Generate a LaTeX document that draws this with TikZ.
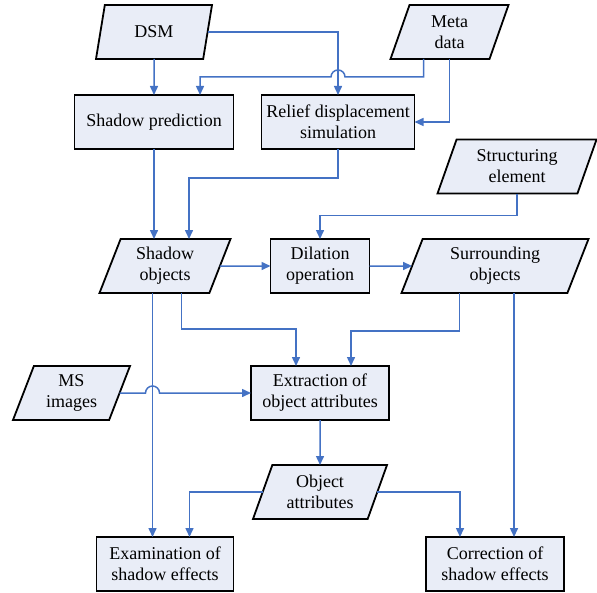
\documentclass[tikz,border=0pt]{standalone}
\usepackage{fontspec}
\setmainfont{Liberation Serif}
\newfontfamily\flowfont{Liberation Serif}
\usetikzlibrary{positioning,arrows.meta,calc,shapes.geometric}
\definecolor{flowline}{RGB}{68,114,196}
\definecolor{flowfill}{RGB}{233,237,247}

\begin{document}
\begin{tikzpicture}[font=\flowfont\fontsize{9}{10.5}\selectfont,>={Triangle[length=4.5pt,width=4pt]},node distance=18pt,
  proc/.style={draw,line width=0.9pt,outer sep=0pt,fill=flowfill,align=center,inner sep=1.5pt,minimum height=27pt},
  dat/.style={draw,line width=0.9pt,outer sep=0pt,fill=flowfill,align=center,inner sep=1.5pt,minimum height=27pt,
    trapezium,trapezium left angle=64,trapezium right angle=116,trapezium stretches body},
  link/.style={->,draw=flowline,line width=0.75pt}]
  \useasboundingbox (-77pt,16pt) rectangle (221.5pt,-280pt);
  \node[dat,minimum width=58pt] (dsm) {DSM};
  \node[proc,minimum width=79.5pt,below=18pt of dsm] (shpred) {Shadow prediction};
  \node[proc,minimum width=76.5pt,right=14pt of shpred] (relief) {Relief displacement\\simulation};
  \node[dat,minimum width=59pt] (meta) at ($(relief)+(55.75pt,45pt)$) {Meta\\data};
  \node[dat,minimum width=79.5pt] (struct) at ($(relief)+(89.5pt,-22.25pt)$) {Structuring\\element};
  \node[dat,minimum width=65.5pt,below=45pt of shpred,xshift=5.5pt] (shobj) {Shadow\\objects};
  \node[proc,minimum width=49.5pt,below=45pt of relief,xshift=-9pt] (dil) {Dilation\\operation};
  \node[dat,minimum width=93.5pt] (surr) at ($(dil)+(87.5pt,0)$) {Surrounding\\objects};
  \node[proc,minimum width=69pt,below=36.5pt of dil] (extr) {Extraction of\\object attributes};
  \node[dat,minimum width=58.5pt] (ms) at ($(extr)+(-124.25pt,0)$) {MS\\images};
  \node[dat,minimum width=67pt,below=22.5pt of extr] (attr) {Object\\attributes};
  \node[proc,minimum width=68.5pt,below=122pt of shobj] (exam) {Examination of\\shadow effects};
  \node[proc,minimum width=69pt,below=122pt of surr] (corr) {Correction of\\shadow effects};
  \coordinate (m1) at ($(meta.south)+(-13pt,0)$);
  \coordinate (j1) at ($(m1)+(0,-9pt)$);
  \coordinate (s1) at ($(shobj.south)+(-6.25pt,0)$);
  \coordinate (s2) at ($(surr.south)+(9.5pt,0)$);
  \draw[link] (dsm) -- (shpred);
  \draw[link] (dsm) -| (relief.north);
  \draw[link] (m1) -- (j1) -- ($(j1 -| relief.north)+(3.5pt,0)$) arc[start angle=0,end angle=180,radius=3.5pt]
    -| ($(shpred.north)+(23pt,0)$);
  \draw[link] (meta.south) |- (relief.east);
  \draw[link] (shpred.south) -- (shpred.south |- shobj.north);
  \draw[link] (relief.south) -- ++(0,-14.5pt) -| ($(shobj.north)+(12pt,0)$);
  \draw[link] (struct.south) -- ++(0,-11pt) -| (dil.north);
  \draw[link] (shobj) -- (dil); \draw[link] (dil) -- (surr);
  \draw[link] (s1) -- (s1 |- exam.north);
  \draw[link] (ms) -- ($(s1 |- ms)+(-3.5pt,0)$) arc[start angle=180,end angle=0,radius=3.5pt] -- (extr.west);
  \draw[link] ($(shobj.south)+(8.25pt,0)$) -- ++(0,-18pt) -| ($(extr.north)+(-12pt,0)$);
  \draw[link] ($(surr.south)+(-17.75pt,0)$) -- ++(0,-19pt) -| ($(extr.north)+(15.5pt,0)$);
  \draw[link] (s2) -- (s2 |- corr.north);
  \draw[link] (extr) -- (attr);
  \draw[link] (attr) -| ($(exam.north)+(12.25pt,0)$);
  \draw[link] (attr) -| ($(corr.north)+(-17.5pt,0)$);
\end{tikzpicture}
\end{document}
